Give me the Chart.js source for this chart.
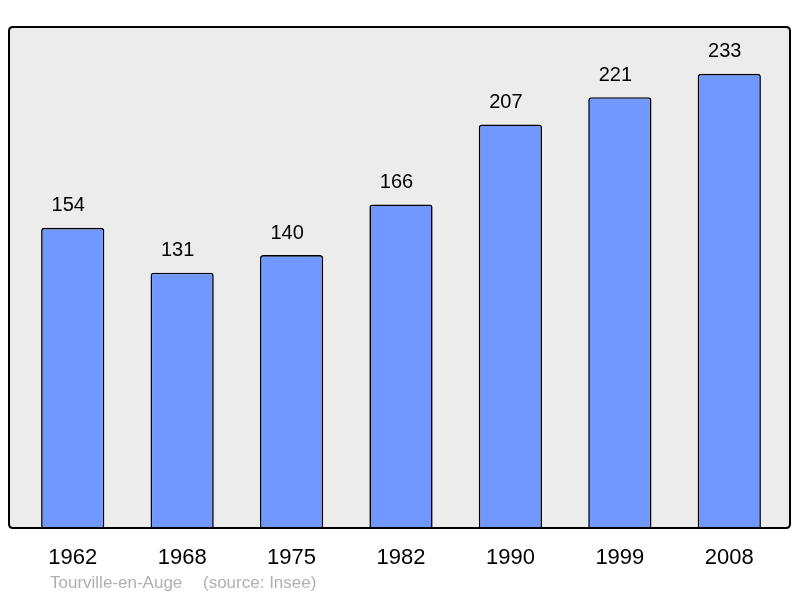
<!DOCTYPE html>
<html>
<head>
<meta charset="utf-8">
<script src="https://cdn.jsdelivr.net/npm/chart.js@4/dist/chart.umd.min.js"></script>
<style>
  html, body { margin: 0; padding: 0; background: #ffffff; }
  #wrap { width: 800px; height: 598px; position: relative; }
</style>
</head>
<body>
<div id="wrap"><canvas id="population-chart"></canvas></div>
<script>
var years = ["1962", "1968", "1975", "1982", "1990", "1999", "2008"];
var population = [154, 131, 140, 166, 207, 221, 233];
var commune = "Tourville-en-Auge";
var sourceText = "(source: Insee)";

var fontFamily = "'Liberation Sans', Arial, sans-serif";

// grey box behind the bars, a bit wider than the chart area
var frameBox = {
    id: 'frameBox',
    beforeDatasetsDraw: function (chart) {
        var ctx = chart.ctx;
        var a = chart.chartArea;
        ctx.save();
        ctx.fillStyle = '#ececec';
        roundRect(ctx, a.left - 9, a.top, a.right - a.left + 15, a.bottom - a.top, 4);
        ctx.fill();
        ctx.restore();
    },
    afterDatasetsDraw: function (chart) {
        var ctx = chart.ctx;
        var a = chart.chartArea;
        ctx.save();
        ctx.strokeStyle = '#000000';
        ctx.lineWidth = 2;
        roundRect(ctx, a.left - 9, a.top, a.right - a.left + 15, a.bottom - a.top, 4);
        ctx.stroke();

        // values above the bars
        var meta = chart.getDatasetMeta(0);
        ctx.fillStyle = '#000000';
        ctx.font = '20px ' + fontFamily;
        ctx.textAlign = 'center';
        ctx.textBaseline = 'middle';
        meta.data.forEach(function (bar, i) {
            ctx.fillText(population[i], bar.x - 4.5, bar.y - 22);
        });

        // caption under the axis
        ctx.fillStyle = '#b0b0b0';
        ctx.font = '17px ' + fontFamily;
        ctx.textAlign = 'left';
        ctx.fillText(commune, 50, 583);
        ctx.fillText(sourceText, 203, 583);
        ctx.restore();
    }
};

function roundRect(ctx, x, y, w, h, r) {
    ctx.beginPath();
    ctx.moveTo(x + r, y);
    ctx.lineTo(x + w - r, y);
    ctx.quadraticCurveTo(x + w, y, x + w, y + r);
    ctx.lineTo(x + w, y + h - r);
    ctx.quadraticCurveTo(x + w, y + h, x + w - r, y + h);
    ctx.lineTo(x + r, y + h);
    ctx.quadraticCurveTo(x, y + h, x, y + h - r);
    ctx.lineTo(x, y + r);
    ctx.quadraticCurveTo(x, y, x + r, y);
    ctx.closePath();
}

new Chart(document.getElementById('population-chart'), {
    type: 'bar',
    data: {
        labels: years,
        datasets: [{
            data: population,
            backgroundColor: '#7098ff',
            borderColor: '#000000',
            borderWidth: 1.6,
            borderRadius: 3,
            borderSkipped: 'bottom',
            barPercentage: 0.578,
            categoryPercentage: 1
        }]
    },
    options: {
        responsive: true,
        maintainAspectRatio: false,
        animation: false,
        layout: {
            padding: { left: 18, right: 16, top: 27, bottom: 0 }
        },
        plugins: {
            legend: { display: false },
            tooltip: { enabled: false }
        },
        scales: {
            y: {
                display: false,
                min: 0,
                max: 257
            },
            x: {
                grid: { display: false, drawTicks: false },
                border: { display: false },
                ticks: {
                    color: '#000000',
                    padding: 17,
                    font: { family: fontFamily, size: 22 }
                },
                afterFit: function (scale) {
                    scale.height = 70;
                }
            }
        }
    },
    plugins: [frameBox]
});
</script>
</body>
</html>
